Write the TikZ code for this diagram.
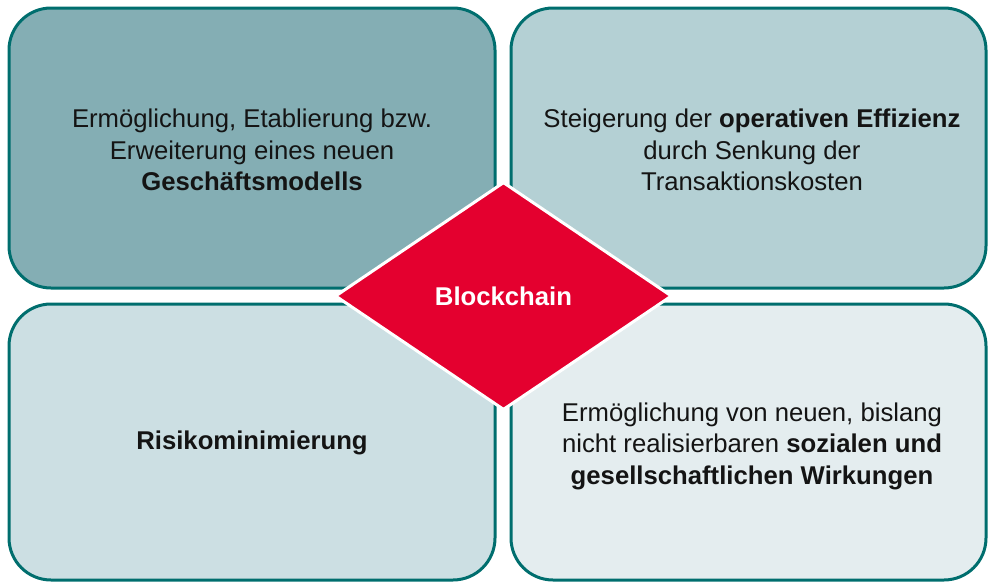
\documentclass[tikz,border=0pt]{standalone}
\usepackage{fontspec}
\setmainfont{Liberation Sans}
\usetikzlibrary{shapes.geometric}
\definecolor{teal1}{HTML}{006E6E}
\definecolor{fillA}{HTML}{84AEB4}
\definecolor{fillB}{HTML}{B4D0D4}
\definecolor{fillC}{HTML}{CCDFE3}
\definecolor{fillD}{HTML}{E4EDEF}
\definecolor{bred}{HTML}{E4002F}
\definecolor{txt}{HTML}{141414}
\tikzset{
  quad/.style={draw=teal1, line width=3pt, rounded corners=42pt},
  qtext/.style={text=txt, align=center, inner sep=0pt,
    font=\fontsize{25.7}{31.5}\selectfont},
  core/.style={shape=diamond, draw=white, line width=3pt, fill=bred,
    minimum width=337pt, minimum height=228pt, inner sep=0pt,
    text=white, font=\fontsize{25.7}{31.5}\selectfont\bfseries}
}
\begin{document}
\begin{tikzpicture}[x=1pt,y=-1pt]
\useasboundingbox (0,0) rectangle (989,582);
\path[quad, fill=fillA] (9,8) rectangle (495,288);
\path[quad, fill=fillB] (511,8) rectangle (986,288);
\path[quad, fill=fillC] (9,304) rectangle (495,580);
\path[quad, fill=fillD] (511,304) rectangle (986,580);
\node[qtext] (tl) at (252,150) {Ermöglichung, Etablierung bzw.\\Erweiterung eines neuen\\\textbf{Geschäftsmodells}};
\node[qtext] (tr) at (752,150) {Steigerung der \textbf{operativen Effizienz}\\durch Senkung der\\Transaktionskosten};
\node[qtext] (bl) at (252,443) {\textbf{Risikominimierung}};
\node[qtext] (br) at (752,446) {Ermöglichung von neuen, bislang\\nicht realisierbaren \textbf{sozialen und}\\\textbf{gesellschaftlichen Wirkungen}};
\node[core] (bc) at (503.5,296) {Blockchain};
\end{tikzpicture}
\end{document}
